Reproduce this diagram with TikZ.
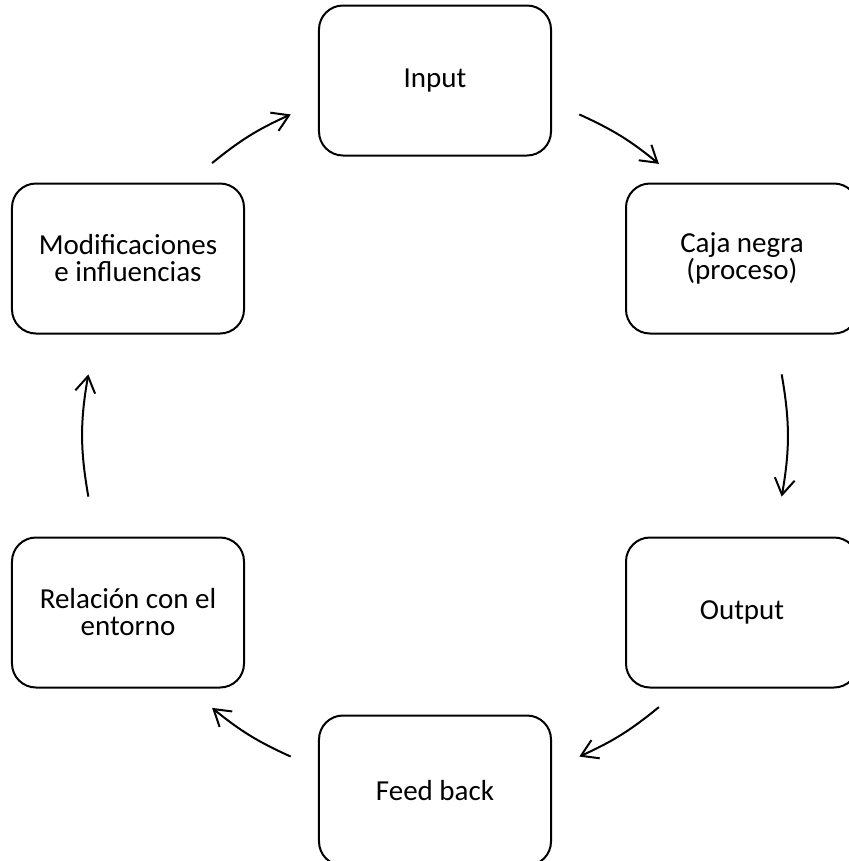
\documentclass[tikz,border=0pt]{standalone}
\usepackage{fontspec}
\setmainfont{Carlito}
\usetikzlibrary{matrix,arrows.meta,calc}
\tikzstyle{cyclematrix}=[row sep=26pt,column sep=73pt]
\tikzstyle{stage}=[draw,line width=2pt,rounded corners=24pt,minimum width=232pt,minimum height=150pt,align=center,font=\fontsize{29pt}{27pt}\selectfont]

\begin{document}
\begin{tikzpicture}[x=1pt,y=1pt,>={Straight Barb[length=16pt,width=20pt]}]
\useasboundingbox (0,0) rectangle (848,-861);
\matrix(C)[cyclematrix] at (435,-435.5){
    & \node[stage](input){Input}; & \\
    \node[stage](mod){Modificaciones\\e influencias}; & & \node[stage](caja){Caja negra\\(proceso)}; \\[176pt]
    \node[stage](rel){Relación con el\\entorno}; & & \node[stage](output){Output}; \\
    & \node[stage](feed){Feed back}; & \\
  };
  % arrow ends on a circle round the centre
  \foreach \n/\a/\b in {1/129.3/114.2,2/65.8/50.5,3/10/-10,4/-50.5/-65.8,5/-114.2/-129.3,6/190/170}{
    \coordinate (s\n) at ($(C.center)+(\a:352)$);
    \coordinate (e\n) at ($(C.center)+(\b:352)$);
  }
  \path[->,line width=2pt]
    (s1) edge[bend left=7.5] (e1)
    (s2) edge[bend left=7.5] (e2)
    (s3) edge[bend left=10] (e3)
    (s4) edge[bend left=7.5] (e4)
    (s5) edge[bend left=7.5] (e5)
    (s6) edge[bend left=10] (e6);
\end{tikzpicture}
\end{document}
